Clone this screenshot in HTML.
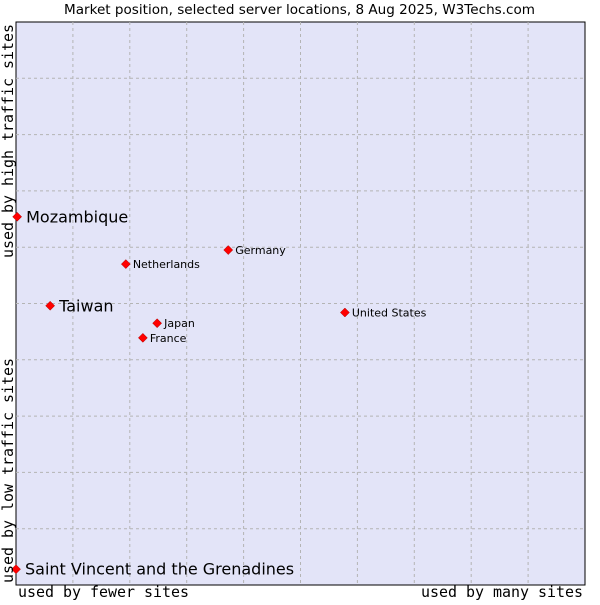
<!DOCTYPE html>
<html><head><meta charset="utf-8"><style>
body{margin:0;background:#fff;}
svg text{font-family:"DejaVu Sans","Liberation Sans",sans-serif;}
.mono{font-family:'DejaVu Sans Mono','Liberation Mono',monospace;}
</style></head><body>
<svg id="chart" width="600" height="600" xmlns="http://www.w3.org/2000/svg">
<text x="64" y="14" font-size="13" textLength="471" lengthAdjust="spacingAndGlyphs" fill="#000">Market position, selected server locations, 8 Aug 2025, W3Techs.com</text>
<rect x="16" y="22" width="569" height="563" fill="#e3e4f8" stroke="#000" stroke-width="1"/>
<g id="grid"></g>
<g id="points"></g>
<text class="mono" x="18" y="597" font-size="15" textLength="171" lengthAdjust="spacingAndGlyphs" style="font-family:'DejaVu Sans Mono','Liberation Mono',monospace">used by fewer sites</text>
<text class="mono" x="421" y="597" font-size="15" textLength="162" lengthAdjust="spacingAndGlyphs" style="font-family:'DejaVu Sans Mono','Liberation Mono',monospace">used by many sites</text>
<text class="mono" transform="translate(13,258) rotate(-90)" font-size="15" textLength="234" lengthAdjust="spacingAndGlyphs" style="font-family:'DejaVu Sans Mono','Liberation Mono',monospace">used by high traffic sites</text>
<text class="mono" transform="translate(13,583) rotate(-90)" font-size="15" textLength="225" lengthAdjust="spacingAndGlyphs" style="font-family:'DejaVu Sans Mono','Liberation Mono',monospace">used by low traffic sites</text>
</svg>
<script>
const names=["Mozambique","Taiwan","Saint Vincent and the Grenadines","Netherlands","Germany","Japan","France","United States"];
const xVals=[0.2,6.0,0.0,19.3,37.3,24.8,22.3,57.8];
const yVals=[65.4,49.6,2.8,57.0,59.5,46.5,43.9,48.4];
const bigLabel=[true,true,true,false,false,false,false,false];
const L=16,T=22,W=569,H=563;
const sx=v=>L+v/100*W, sy=v=>T+H-v/100*H;
const NS="http://www.w3.org/2000/svg";
const g=document.getElementById('grid');
for(let i=1;i<10;i++){
  const lv=document.createElementNS(NS,'line');
  
  
  lv.setAttribute('x1',sx(i*10));lv.setAttribute('x2',sx(i*10));lv.setAttribute('y1',T);lv.setAttribute('y2',T+H);
  lv.setAttribute('stroke','#b4b4b4');lv.setAttribute('stroke-dasharray','3,3');g.appendChild(lv);
  const lh=document.createElementNS(NS,'line');
  
  
  lh.setAttribute('y1',sy(i*10));lh.setAttribute('y2',sy(i*10));lh.setAttribute('x1',L);lh.setAttribute('x2',L+W);
  lh.setAttribute('stroke','#b4b4b4');lh.setAttribute('stroke-dasharray','3,3');g.appendChild(lh);
}
const p=document.getElementById('points');
names.forEach((n,i)=>{
  const x=sx(xVals[i]),y=sy(yVals[i]);
  const d=document.createElementNS(NS,'polygon');
  
  
  d.setAttribute('points',`${x},${y-4.5} ${x+4.5},${y} ${x},${y+4.5} ${x-4.5},${y}`);
  d.setAttribute('fill','#ff0000');d.setAttribute('stroke','#a00000');d.setAttribute('stroke-width','0.5');
  p.appendChild(d);
  const t=document.createElementNS(NS,'text');
  
  
  t.setAttribute('x',x+(bigLabel[i]?9:7));t.setAttribute('y',y+(bigLabel[i]?5.5:4));
  t.setAttribute('font-size',bigLabel[i]?'16':'11');
  t.textContent=n;p.appendChild(t);
});
</script>
</body></html>
